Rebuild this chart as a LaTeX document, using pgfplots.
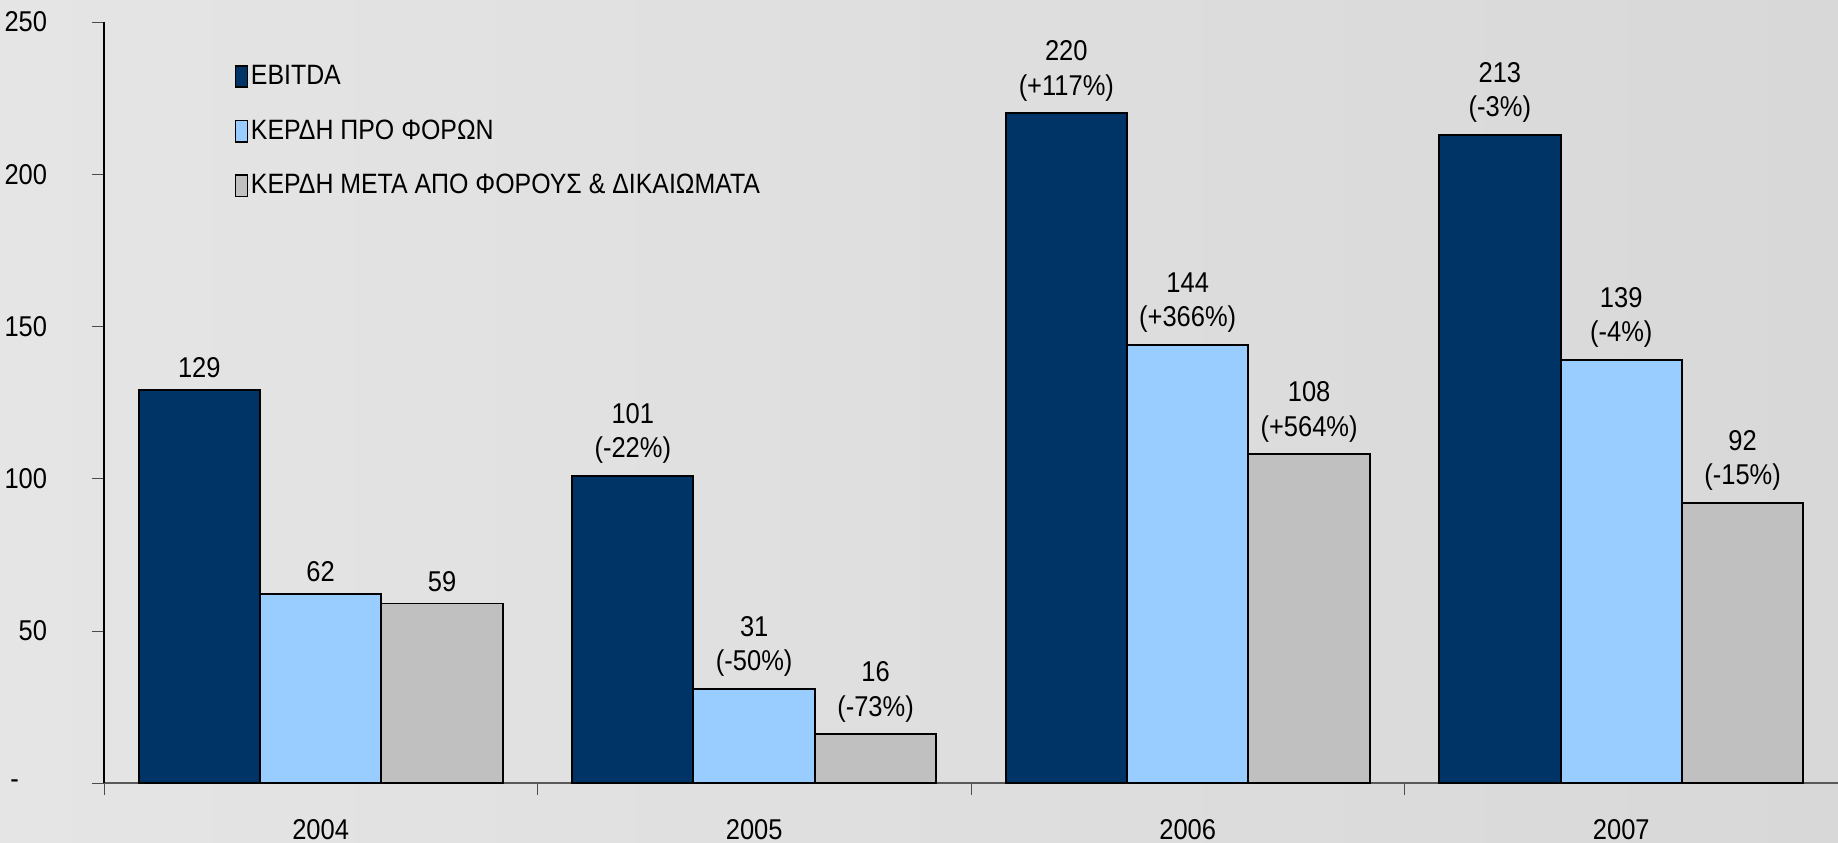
\documentclass[border=0pt]{standalone}
\usepackage{pgfplots}
\pgfplotsset{compat=1.18}
\usepackage{fontspec}
\setmainfont{Liberation Sans}[FakeStretch=0.89]
\usetikzlibrary{backgrounds,calc}

\definecolor{ebitda}{RGB}{0,51,102}
\definecolor{pretax}{RGB}{153,204,255}
\definecolor{aftertax}{RGB}{192,192,192}
\definecolor{bgL}{RGB}{229,229,229}
\definecolor{bgR}{RGB}{216,216,216}

\begin{document}
\fontsize{8.6pt}{10.3pt}\selectfont
\begin{tikzpicture}
\begin{axis}[
    name=ax,
    width=520.8pt, height=228.6pt, scale only axis,
    xmin=-0.5, xmax=3.5, ymin=0, ymax=250,
    axis x line=bottom, axis y line=left,
    x axis line style={-, black!65},
    y axis line style={-, black},
    tick align=outside,
    major tick length=3.5pt,
    tick style={black!70},
    xtick={-0.5,0.5,1.5,2.5,3.5}, xticklabels={},
    extra x ticks={0,1,2,3},
    extra x tick labels={2004,2005,2006,2007},
    extra x tick style={major tick length=0pt, tick label style={yshift=-7.8pt}},
    ytick={0,50,100,150,200,250},
    yticklabels={{\raisebox{-3pt}{-}\hspace*{8.5pt}},50,100,150,200,250},
    yticklabel style={xshift=-10.5pt},
    /pgf/number format/assume math mode=true,
    ybar=0pt, bar width=0.28,
    point meta=explicit symbolic,
    nodes near coords,
    every node near coord/.append style={align=center, anchor=south, yshift=0.5pt, black},
    legend style={at={(0.075,0.953)}, anchor=north west, draw=none, fill=none,
        row sep=5.3pt, inner sep=0pt, nodes={inner xsep=0.8pt},
        font=\fontsize{8.4pt}{10pt}\selectfont},
    legend cell align=left,
    legend image code/.code={\draw[#1, draw=black, line width=0.5pt] (0pt,-3.1pt) rectangle (3.6pt,3.3pt);},
]
\addplot[fill=ebitda, draw=black, line width=0.6pt] coordinates {
    (0,129) [129]
    (1,101) [{101\\(-22\%)}]
    (2,220) [{220\\(+117\%)}]
    (3,213) [{213\\(-3\%)}]
};
\addlegendentry{EBITDA}
\addplot[fill=pretax, draw=black, line width=0.6pt] coordinates {
    (0,62) [62]
    (1,31) [{31\\(-50\%)}]
    (2,144) [{144\\(+366\%)}]
    (3,139) [{139\\(-4\%)}]
};
\addlegendentry{ΚΕΡΔΗ ΠΡΟ ΦΟΡΩΝ}
\addplot[fill=aftertax, draw=black, line width=0.6pt] coordinates {
    (0,59) [59]
    (1,16) [{16\\(-73\%)}]
    (2,108) [{108\\(+564\%)}]
    (3,92) [{92\\(-15\%)}]
};
\addlegendentry{ΚΕΡΔΗ ΜΕΤΑ ΑΠΟ ΦΟΡΟΥΣ \& ΔΙΚΑΙΩΜΑΤΑ}
\end{axis}
\begin{scope}[on background layer]
\shade[left color=bgL, right color=bgR] ($(ax.south west)+(-31.2pt,-17.7pt)$) rectangle ($(ax.north east)+(0pt,6.6pt)$);
\end{scope}
\pgfresetboundingbox
\useasboundingbox ($(ax.south west)+(-31.2pt,-17.7pt)$) rectangle ($(ax.north east)+(0pt,6.6pt)$);
\end{tikzpicture}
\end{document}
